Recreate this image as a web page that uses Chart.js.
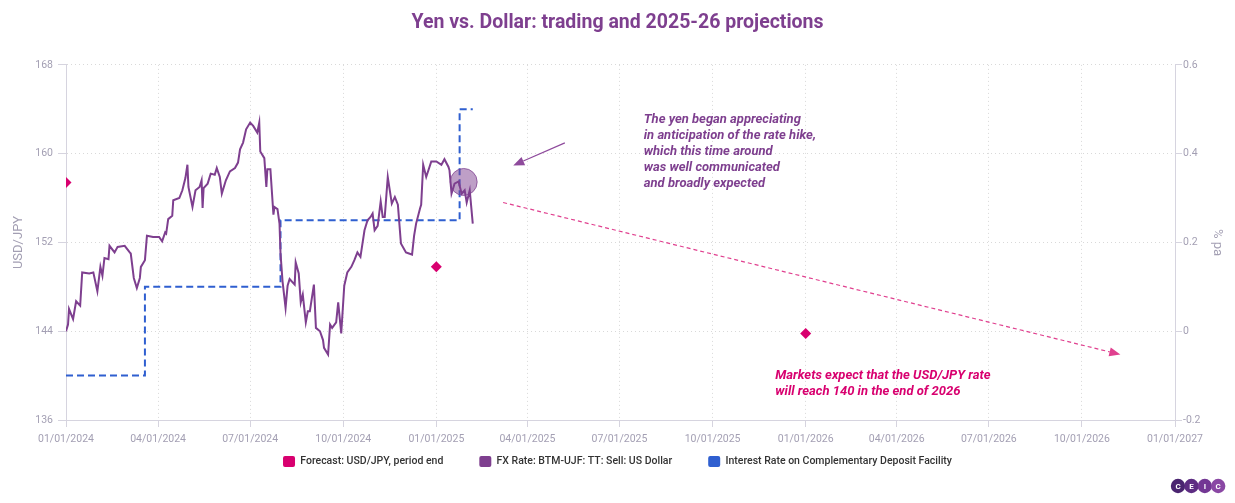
<!DOCTYPE html>
<html>
<head>
<meta charset="utf-8">
<script src="https://cdn.jsdelivr.net/npm/chart.js@4.4.1/dist/chart.umd.min.js"></script>
<style>
  html, body { margin: 0; padding: 0; background: #fff; }
</style>
</head>
<body>
<canvas id="chart" width="1235" height="503"></canvas>
<script>
// FX Rate: BTM-UJF: TT: Sell: US Dollar
const fxDates = [
  '2024-01-01','2024-01-03','2024-01-04','2024-01-08','2024-01-11','2024-01-15','2024-01-17','2024-01-24',
  '2024-01-28','2024-02-01','2024-02-04','2024-02-06','2024-02-08','2024-02-12','2024-02-13','2024-02-18',
  '2024-02-21','2024-02-28','2024-03-04','2024-03-05','2024-03-08','2024-03-11','2024-03-14','2024-03-15',
  '2024-03-19','2024-03-21','2024-03-27','2024-04-02','2024-04-05','2024-04-08','2024-04-09','2024-04-11',
  '2024-04-15','2024-04-16','2024-04-22','2024-04-25','2024-04-28','2024-04-30','2024-05-01','2024-05-05',
  '2024-05-08','2024-05-12','2024-05-14','2024-05-15','2024-05-16','2024-05-20','2024-05-23','2024-05-27',
  '2024-05-29','2024-06-01','2024-06-03','2024-06-07','2024-06-11','2024-06-16','2024-06-19','2024-06-21',
  '2024-06-24','2024-06-27','2024-07-01','2024-07-04','2024-07-08','2024-07-10','2024-07-11','2024-07-15',
  '2024-07-17','2024-07-18','2024-07-21','2024-07-24','2024-07-25','2024-07-28','2024-07-30','2024-07-31',
  '2024-08-02','2024-08-05','2024-08-07','2024-08-09','2024-08-14','2024-08-15','2024-08-18','2024-08-20',
  '2024-08-22','2024-08-25','2024-08-27','2024-08-29','2024-09-02','2024-09-04','2024-09-08','2024-09-11',
  '2024-09-12','2024-09-16','2024-09-18','2024-09-20','2024-09-24','2024-09-26','2024-09-29','2024-10-02',
  '2024-10-05','2024-10-09','2024-10-12','2024-10-15','2024-10-18','2024-10-22','2024-10-25','2024-10-28',
  '2024-10-30','2024-11-01','2024-11-04','2024-11-07','2024-11-09','2024-11-11','2024-11-14','2024-11-18',
  '2024-11-21','2024-11-24','2024-11-27','2024-12-02','2024-12-05','2024-12-08','2024-12-10','2024-12-12',
  '2024-12-16','2024-12-17','2024-12-19','2024-12-22','2024-12-27','2025-01-01','2025-01-06','2025-01-09',
  '2025-01-13','2025-01-14','2025-01-16','2025-01-19','2025-01-23','2025-01-26','2025-01-29','2025-01-31',
  '2025-02-03','2025-02-06'
];
const fxValues = [
  144.0, 144.6, 146.0, 145.1, 146.7, 146.3, 149.3, 149.2,
  149.3, 147.6, 149.8, 149.0, 150.6, 150.5, 151.7, 151.1,
  151.6, 151.7, 151.1, 151.0, 148.8, 147.9, 148.8, 149.8,
  150.4, 152.6, 152.5, 152.5, 152.1, 152.9, 152.8, 154.1,
  154.4, 155.8, 156.0, 156.7, 157.8, 159.0, 157.0, 155.2,
  156.7, 157.0, 157.6, 155.1, 156.9, 157.3, 158.2, 158.1,
  158.7, 157.9, 156.4, 157.6, 158.4, 158.7, 159.2, 160.4,
  161.0, 162.2, 162.8, 162.5, 161.9, 162.8, 160.2, 159.6,
  157.0, 158.6, 158.6, 154.5, 155.2, 155.0, 153.7, 151.0,
  148.5, 146.1, 148.1, 148.7, 148.2, 150.2, 149.2, 146.6,
  147.3, 144.8, 145.8, 145.8, 148.2, 144.3, 144.0, 143.2,
  142.5, 141.9, 144.6, 144.3, 144.8, 146.6, 143.8, 148.1,
  149.3, 149.8, 150.4, 151.1, 150.7, 153.1, 154.0, 154.3,
  154.6, 153.1, 153.5, 155.7, 154.3, 154.3, 157.9, 155.5,
  156.1, 155.4, 151.9, 151.1, 151.0, 150.9, 152.6, 153.7,
  155.1, 155.4, 159.0, 157.9, 159.3, 159.3, 159.0, 159.5,
  158.8, 158.5, 156.4, 157.3, 157.5, 156.4, 156.7, 155.6,
  156.7, 153.7
];

// Forecast: USD/JPY, period end
const forecastDates = ['2024-01-01', '2025-01-01', '2026-01-01'];
const forecastValues = [157.4, 149.8, 143.8];

// Interest Rate on Complementary Deposit Facility (% pa)
const rateDates = ['2024-01-01', '2024-03-19', '2024-07-31', '2025-01-24', '2025-02-06'];
const rateValues = [-0.1, 0.1, 0.25, 0.5, 0.5];

const xTickDates = [
  '2024-01-01','2024-04-01','2024-07-01','2024-10-01',
  '2025-01-01','2025-04-01','2025-07-01','2025-10-01',
  '2026-01-01','2026-04-01','2026-07-01','2026-10-01','2027-01-01'
];
const leftTicks = [136, 144, 152, 160, 168];
const rightTicks = [-0.2, 0, 0.2, 0.4, 0.6];

const yenNote = [
  'The yen began appreciating',
  'in anticipation of the rate hike,',
  'which this time around',
  'was well communicated',
  'and broadly expected'
];
const marketNote = [
  'Markets expect that the USD/JPY rate',
  'will reach 140 in the end of 2026'
];

const PURPLE = '#7e3f8f';
const PINK = '#d8006f';
const BLUE = '#2f5fd0';
const TICK = '#a39fb3';
const AXIS = '#d6d4df';
const GRID = '#d9d9d9';

const toMs = d => Date.parse(d);
const pad2 = n => String(n).padStart(2, '0');
function fmtDate(ms) {
  const d = new Date(ms);
  return pad2(d.getUTCMonth() + 1) + '/' + pad2(d.getUTCDate()) + '/' + d.getUTCFullYear();
}

function arrow(ctx, x1, y1, x2, y2, color, dash) {
  const a = Math.atan2(y2 - y1, x2 - x1);
  const len = 11, w = 4.5;
  const bx = x2 - len * Math.cos(a), by = y2 - len * Math.sin(a);
  ctx.save();
  ctx.strokeStyle = color;
  ctx.fillStyle = color;
  ctx.lineWidth = 1.2;
  ctx.setLineDash(dash);
  ctx.beginPath();
  ctx.moveTo(x1, y1);
  ctx.lineTo(bx, by);
  ctx.stroke();
  ctx.setLineDash([]);
  ctx.beginPath();
  ctx.moveTo(x2, y2);
  ctx.lineTo(bx + w * Math.sin(a), by - w * Math.cos(a));
  ctx.lineTo(bx - w * Math.sin(a), by + w * Math.cos(a));
  ctx.closePath();
  ctx.fill();
  ctx.restore();
}

function textBlock(ctx, lines, x, y, color) {
  ctx.save();
  ctx.fillStyle = color;
  ctx.font = 'italic bold 13px Roboto';
  ctx.textAlign = 'left';
  ctx.textBaseline = 'middle';
  lines.forEach((t, i) => ctx.fillText(t, x, y + i * 16));
  ctx.restore();
}

const notes = {
  id: 'notes',
  afterDatasetsDraw(chart) {
    const { ctx, scales: { x, y } } = chart;
    const px = d => x.getPixelForValue(toMs(d));

    // highlight circle on the late-January move
    ctx.save();
    ctx.beginPath();
    ctx.arc(px('2025-01-28'), y.getPixelForValue(157.45), 13.5, 0, Math.PI * 2);
    ctx.fillStyle = 'rgba(126, 63, 143, 0.5)';
    ctx.fill();
    ctx.lineWidth = 1;
    ctx.strokeStyle = 'rgba(126, 63, 143, 0.75)';
    ctx.stroke();
    ctx.restore();

    arrow(ctx, px('2025-05-08'), y.getPixelForValue(160.97),
      px('2025-03-18'), y.getPixelForValue(158.94), '#8e4a9c', []);
    arrow(ctx, px('2025-03-08'), y.getPixelForValue(155.6),
      px('2026-11-08'), y.getPixelForValue(141.9), '#e0408f', [4, 3]);

    textBlock(ctx, yenNote, px('2025-07-25'), y.getPixelForValue(163.1), PURPLE);
    textBlock(ctx, marketNote, px('2025-12-02'), y.getPixelForValue(140.0), PINK);
  },
  afterDraw(chart) {
    // CEIC badge, bottom right
    const { ctx } = chart;
    const letters = ['C', 'E', 'I', 'C'];
    const fills = ['#4a2470', '#5d2c82', '#733794', '#8a48a4'];
    ctx.save();
    letters.forEach((l, i) => {
      const cx = 1178 + i * 13.4, cy = 486;
      ctx.beginPath();
      ctx.arc(cx, cy, 7.2, 0, Math.PI * 2);
      ctx.fillStyle = fills[i];
      ctx.fill();
      ctx.fillStyle = '#fff';
      ctx.font = 'bold 8px Roboto';
      ctx.textAlign = 'center';
      ctx.textBaseline = 'middle';
      ctx.fillText(l, cx, cy + 0.5);
    });
    ctx.restore();
  }
};

const tickFont = { family: 'Roboto', size: 10.5 };

new Chart(document.getElementById('chart'), {
  type: 'line',
  data: {
    datasets: [
      {
        label: 'Forecast: USD/JPY, period end',
        data: forecastDates.map((d, i) => ({ x: toMs(d), y: forecastValues[i] })),
        showLine: false,
        pointStyle: 'rectRot',
        pointRadius: 5.5,
        pointBorderWidth: 0,
        backgroundColor: PINK,
        borderColor: PINK,
        yAxisID: 'y'
      },
      {
        label: 'FX Rate: BTM-UJF: TT: Sell: US Dollar',
        data: fxDates.map((d, i) => ({ x: toMs(d), y: fxValues[i] })),
        borderColor: PURPLE,
        backgroundColor: PURPLE,
        borderWidth: 2,
        pointRadius: 0,
        tension: 0,
        yAxisID: 'y'
      },
      {
        label: 'Interest Rate on Complementary Deposit Facility',
        data: rateDates.map((d, i) => ({ x: toMs(d), y: rateValues[i] })),
        borderColor: BLUE,
        backgroundColor: BLUE,
        borderWidth: 2,
        borderDash: [7, 4],
        stepped: true,
        pointRadius: 0,
        yAxisID: 'y2'
      }
    ]
  },
  options: {
    responsive: false,
    animation: false,
    devicePixelRatio: 1,
    layout: { padding: { left: 0, right: 0, top: 0, bottom: 26 } },
    plugins: {
      tooltip: { enabled: false },
      title: {
        display: true,
        text: 'Yen vs. Dollar: trading and 2025-26 projections',
        color: PURPLE,
        font: { family: 'Roboto', size: 19.5, weight: 'bold' },
        padding: { top: 11, bottom: 30.5 }
      },
      legend: {
        position: 'bottom',
        labels: {
          boxWidth: 12,
          boxHeight: 11,
          padding: 36,
          color: '#333',
          font: { family: 'Roboto', size: 10.5, weight: '500' },
          generateLabels: chart => chart.data.datasets.map((ds, i) => ({
            text: ds.label,
            fillStyle: ds.borderColor,
            strokeStyle: ds.borderColor,
            lineWidth: 0,
            borderRadius: 2,
            fontColor: '#333',
            datasetIndex: i
          })),
          useBorderRadius: true,
          borderRadius: 2
        }
      }
    },
    scales: {
      x: {
        type: 'linear',
        min: toMs('2024-01-01'),
        max: toMs('2027-01-01'),
        afterBuildTicks: s => { s.ticks = xTickDates.map(d => ({ value: toMs(d) })); },
        afterFit: s => { s.height = 0; },
        ticks: {
          autoSkip: false,
          maxRotation: 0,
          mirror: true,
          padding: -26,
          color: TICK,
          font: tickFont,
          callback: v => fmtDate(v)
        },
        grid: { color: GRID, tickColor: AXIS, tickLength: 7 },
        border: { color: AXIS, dash: [1, 3] }
      },
      y: {
        position: 'left',
        min: 136,
        max: 168,
        afterBuildTicks: s => { s.ticks = leftTicks.map(v => ({ value: v })); },
        afterFit: s => { s.width = 66; },
        ticks: { color: TICK, font: tickFont, padding: 5 },
        grid: { color: GRID, tickColor: AXIS, tickLength: 8 },
        border: { color: AXIS, dash: [1, 3] },
        title: {
          display: true,
          text: 'USD/JPY',
          color: TICK,
          font: { family: 'Roboto', size: 13 },
          padding: { top: 11, bottom: 0 }
        }
      },
      y2: {
        position: 'right',
        min: -0.2,
        max: 0.6,
        afterBuildTicks: s => { s.ticks = rightTicks.map(v => ({ value: v })); },
        afterFit: s => { s.width = 60; },
        ticks: { color: TICK, font: tickFont, padding: 1, callback: v => String(v) },
        grid: { drawOnChartArea: false, color: AXIS, tickColor: AXIS, tickLength: 7 },
        border: { color: AXIS },
        title: {
          display: true,
          text: '% pa',
          color: TICK,
          font: { family: 'Roboto', size: 13 },
          padding: { top: 10, bottom: 0 }
        }
      }
    }
  },
  plugins: [notes]
});
</script>
</body>
</html>
